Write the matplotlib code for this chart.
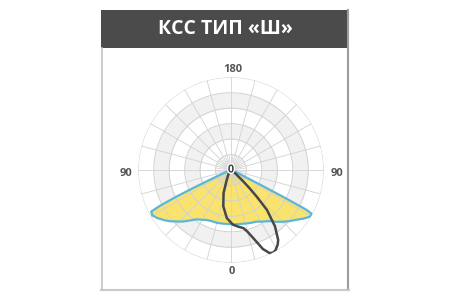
import numpy as np
import matplotlib
matplotlib.use("Agg")
import matplotlib.pyplot as plt
from matplotlib.patches import Rectangle
import matplotlib.patheffects as pe

title = "КСС ТИП «Ш»"
label_top = "180"
label_side = "90"
label_bottom = "0"
label_center = "0"

# wide batwing curve (yellow): angle from nadir in degrees, relative intensity
wide_deg = [-90, -70, -66, -65, -64.5, -64, -63.3, -62.5, -60, -57, -53, -50, -46, -43, -39, -35,
            -30, -26, -21, -15, -8, 0, 8, 16, 21, 26, 31, 37, 41, 45, 49, 53, 56, 59.5, 61.5,
            62.2, 62.7, 63.2, 64, 68, 90]
wide_val = [0, 0.03, 0.12, 0.28, 0.45, 0.65, 0.85, 0.97, 0.98, 0.95, 0.90, 0.86, 0.80, 0.76, 0.70, 0.65,
            0.62, 0.60, 0.59, 0.59, 0.585, 0.585, 0.59, 0.60, 0.61, 0.62, 0.65, 0.69, 0.74, 0.79, 0.84, 0.89, 0.94, 0.99, 0.99,
            0.92, 0.65, 0.40, 0.18, 0.05, 0]

# narrow asymmetric curve (dark)
narrow_deg = [-90, -40, -30, -23, -18, -12, -5, 2, 8, 12, 15, 18, 22, 25, 27, 29, 32, 34, 38, 42, 44,
              45.5, 47, 50, 60, 90]
narrow_val = [0, 0.02, 0.06, 0.12, 0.26, 0.40, 0.52, 0.59, 0.62, 0.64, 0.69, 0.77, 0.92, 0.99, 1.0, 0.99,
              0.95, 0.91, 0.77, 0.58, 0.40, 0.28, 0.18, 0.08, 0.02, 0]

fig = plt.figure(figsize=(4.5, 3), dpi=100)
bg = fig.add_axes([0, 0, 1, 1])
bg.set_xlim(0, 450)
bg.set_ylim(300, 0)
bg.axis("off")
bg.add_patch(Rectangle((101, 10), 247, 38, color="#4b4b4b", lw=0))
bg.plot([101.5, 101.5], [48, 290], color="#c4c4c4", lw=1.2)
bg.plot([348, 348], [10, 290], color="#9c9c9c", lw=1.5)
bg.plot([101, 348.5], [290, 290], color="#c8c8c8", lw=1.5)
bg.text(225, 29.5, title, color="white", fontsize=14, fontweight="bold",
        family="Open Sans", ha="center", va="center")
lab_kw = dict(color="#555555", fontsize=8, fontweight="bold", family="Open Sans",
              ha="center", va="center")
bg.text(232.5, 69.5, label_top, **lab_kw)
bg.text(125.5, 173.5, label_side, **lab_kw)
bg.text(337, 173.5, label_side, **lab_kw)
bg.text(232, 271, label_bottom, **lab_kw)

cx, cy, R = 231, 170, 92.7
ax = fig.add_axes([(cx - R) / 450, 1 - (cy + R) / 300, 2 * R / 450, 2 * R / 300],
                  projection="polar")
ax.set_theta_zero_location("S")
ax.set_ylim(0, 1)
ax.axis("off")

full = np.linspace(0, 2 * np.pi, 361)
grid_c = "#d2d2d2"
# shaded bands
for r0, r1 in [(1 / 3, 1 / 2), (2 / 3, 5 / 6)]:
    ax.fill_between(full, r0, r1, color="#f1f1f1", lw=0, zorder=1)

wt = np.deg2rad(wide_deg)
ax.fill(wt, wide_val, color="#f9e36c", lw=0, zorder=2)

for k in range(1, 7):
    ax.plot(full, np.full_like(full, k / 6), color=grid_c, lw=0.7, zorder=3)
for a in np.arange(0, 360, 15):
    ax.plot([np.deg2rad(a)] * 2, [0, 1], color=grid_c, lw=0.6, zorder=3)
for a in np.arange(7.5, 360, 15):
    ax.plot([np.deg2rad(a)] * 2, [0, 1 / 6], color=grid_c, lw=0.5, zorder=3)

ax.plot(wt, wide_val, color="#5cb6d6", lw=1.6, zorder=4)
ax.plot(np.deg2rad(narrow_deg), narrow_val, color="#474747", lw=1.8, zorder=5)

ax.text(0, 0, label_center, color="#444444", fontsize=8, fontweight="bold", family="Open Sans",
        ha="center", va="center", zorder=6,
        path_effects=[pe.withStroke(linewidth=2, foreground="white")])

fig.savefig("out.png", dpi=100)
